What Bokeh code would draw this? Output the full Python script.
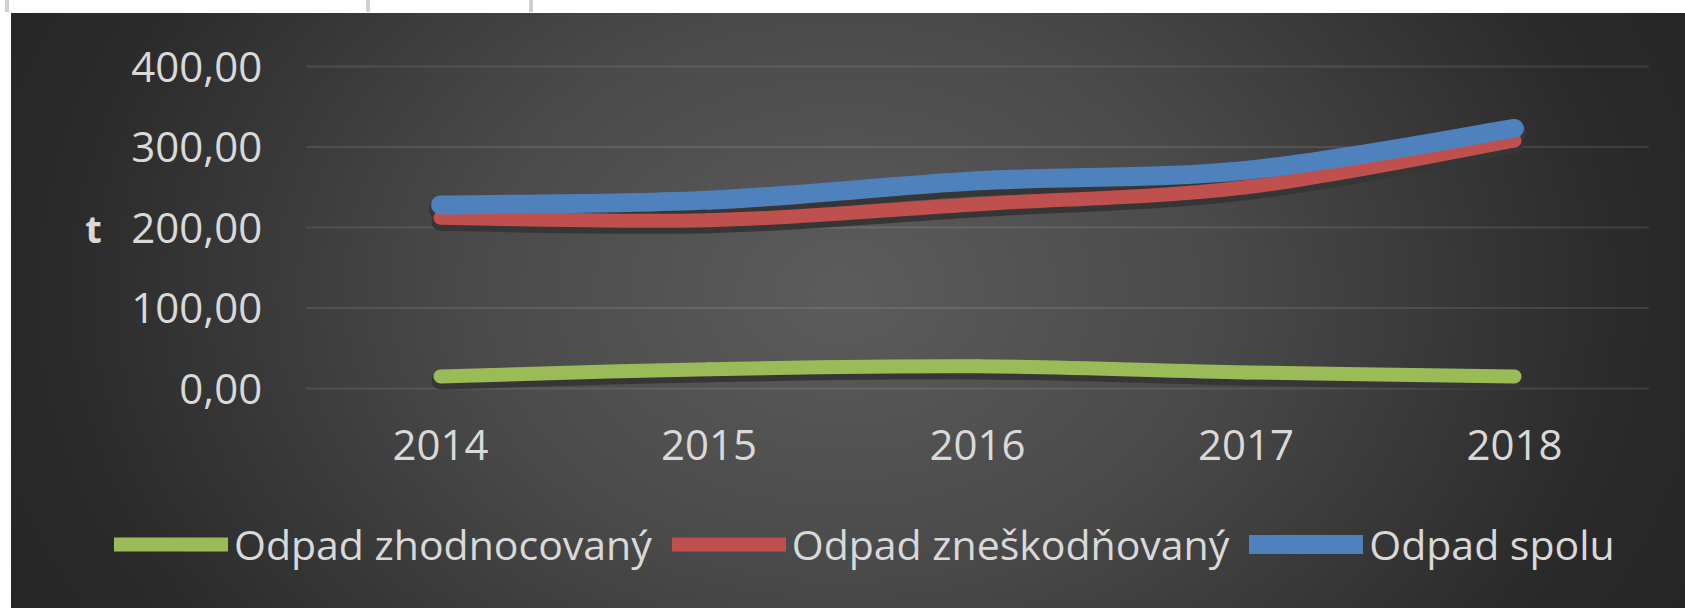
from bokeh.plotting import figure
from bokeh.models import (Range1d, FixedTicker, Legend, LegendItem,
                          ColumnDataSource, Label)
from bokeh.embed import file_html
from bokeh.resources import INLINE

# ---- data ----
years = [2014, 2015, 2016, 2017, 2018]
zhodnocovany = [15.0, 24.0, 27.5, 20.0, 15.0]
zneskodnovany = [212.0, 209.0, 229.0, 250.0, 308.0]
spolu = [228.0, 234.0, 258.0, 271.0, 323.0]

series_names = ["Odpad zhodnocovaný", "Odpad zneškodňovaný", "Odpad spolu"]
series_colors = ["#9bbb59", "#c0504d", "#4f81bd"]
series_widths = [14, 14, 19]

y_ticks = [0, 100, 200, 300, 400]
y_tick_labels = ["0,00", "100,00", "200,00", "300,00", "400,00"]
x_tick_labels = ["2014", "2015", "2016", "2017", "2018"]
y_title = "t"

FONT = "Open Sans"
TXT = "#d9d9d9"

# ---- layout (pixel anchors of the plot area) ----
W, H = 1685, 608
PX_FIRST, PX_PER_CAT = 440.0, 268.5      # x pixel of first category, category width
PY_ZERO, PX_PER_UNIT = 388.0, 0.805      # y pixel of value 0, pixels per unit


def smooth_segments(xs, ys, dy=0.0):
    """Catmull-Rom smoothing expressed as cubic Bezier segments (rendering only)."""
    n = len(xs)
    d = dict(x0=[], y0=[], x1=[], y1=[], cx0=[], cy0=[], cx1=[], cy1=[])
    for i in range(n - 1):
        im, ip = max(i - 1, 0), min(i + 2, n - 1)
        d["x0"].append(xs[i]); d["y0"].append(ys[i] + dy)
        d["x1"].append(xs[i + 1]); d["y1"].append(ys[i + 1] + dy)
        d["cx0"].append(xs[i] + (xs[i + 1] - xs[im]) / 6.0)
        d["cy0"].append(ys[i] + (ys[i + 1] - ys[im]) / 6.0 + dy)
        d["cx1"].append(xs[i + 1] - (xs[ip] - xs[i]) / 6.0)
        d["cy1"].append(ys[i + 1] - (ys[ip] - ys[i]) / 6.0 + dy)
    return ColumnDataSource(d)


x0r = years[0] - PX_FIRST / PX_PER_CAT
x1r = years[0] + (W - PX_FIRST) / PX_PER_CAT
y1r = PY_ZERO / PX_PER_UNIT
y0r = -(H - PY_ZERO) / PX_PER_UNIT

p = figure(width=W, height=H, output_backend="svg", toolbar_location=None,
           x_range=Range1d(x0r, x1r), y_range=Range1d(y0r, y1r),
           min_border=0, min_border_left=0, min_border_right=0,
           min_border_top=0, min_border_bottom=0)

p.border_fill_color = None
p.background_fill_color = None
p.outline_line_color = None
p.styles = {
    "background": (
        "linear-gradient(#d0d0d0,#d0d0d0) 5px 0/4px 12px no-repeat, "
        "linear-gradient(#d0d0d0,#d0d0d0) 366px 0/4px 12px no-repeat, "
        "linear-gradient(#d0d0d0,#d0d0d0) 529px 0/4px 12px no-repeat, "
        "linear-gradient(#ffffff,#ffffff) 0 0/100% 13px no-repeat, "
        "linear-gradient(#ffffff,#ffffff) 0 0/11px 100% no-repeat, "
        "radial-gradient(ellipse 55% 115% at 50% 48%, #5c5c5c 0%, #4a4a4a 40%, #2a2a2a 85%, #262626 100%)"
    )
}

# axes drawn at fixed locations inside the canvas
p.xaxis.ticker = FixedTicker(ticks=years)
p.xaxis.major_label_overrides = {y: l for y, l in zip(years, x_tick_labels)}
p.xaxis.fixed_location = y_ticks[0]
p.yaxis.ticker = FixedTicker(ticks=y_ticks)
p.yaxis.major_label_overrides = {v: l for v, l in zip(y_ticks, y_tick_labels)}
p.yaxis.fixed_location = years[0] - 0.5
for ax in (p.xaxis[0], p.yaxis[0]):
    ax.axis_line_color = None
    ax.major_tick_line_color = None
    ax.minor_tick_line_color = None
    ax.major_tick_out = 0
    ax.major_tick_in = 0
    ax.major_label_text_font = FONT
    ax.major_label_text_font_size = "42px"
    ax.major_label_text_color = TXT
p.xaxis.major_label_standoff = 41
p.yaxis.major_label_standoff = 44

p.add_layout(Label(x=93, y=(y_ticks[0] + y_ticks[-1]) / 2, x_units="screen",
                   y_units="data", text=y_title, text_font=FONT,
                   text_font_style="bold", text_font_size="38px",
                   text_color=TXT, text_align="center",
                   text_baseline="middle"))

# grid lines only across the category span
p.xgrid.grid_line_color = None
p.ygrid.grid_line_color = None
p.segment(x0=[years[0] - 0.5] * len(y_ticks), x1=[years[-1] + 0.5] * len(y_ticks),
          y0=y_ticks, y1=y_ticks, line_color="#ffffff", line_alpha=0.10,
          line_width=2)

# series
data = [zhodnocovany, zneskodnovany, spolu]
for vals, w in zip(data, series_widths):
    p.bezier(x0="x0", y0="y0", x1="x1", y1="y1", cx0="cx0", cy0="cy0",
             cx1="cx1", cy1="cy1", source=smooth_segments(years, vals, dy=-5),
             line_color="#363636", line_width=w + 4, line_cap="round")

items = []
for vals, name, col, w in zip(data, series_names, series_colors, series_widths):
    r = p.bezier(x0="x0", y0="y0", x1="x1", y1="y1", cx0="cx0", cy0="cy0",
                 cx1="cx1", cy1="cy1", source=smooth_segments(years, vals),
                 line_color=col, line_width=w, line_cap="round")
    items.append(LegendItem(label=name, renderers=[r]))

legend = Legend(items=items, orientation="horizontal", location=(114, 36),
                glyph_width=114, glyph_height=20, label_standoff=6, spacing=20,
                padding=0, margin=0, border_line_color=None,
                background_fill_alpha=0, label_text_font=FONT,
                label_text_font_size="41px", label_text_color=TXT)
p.add_layout(legend, "center")

open("out.html", "w").write(file_html(p, INLINE))
